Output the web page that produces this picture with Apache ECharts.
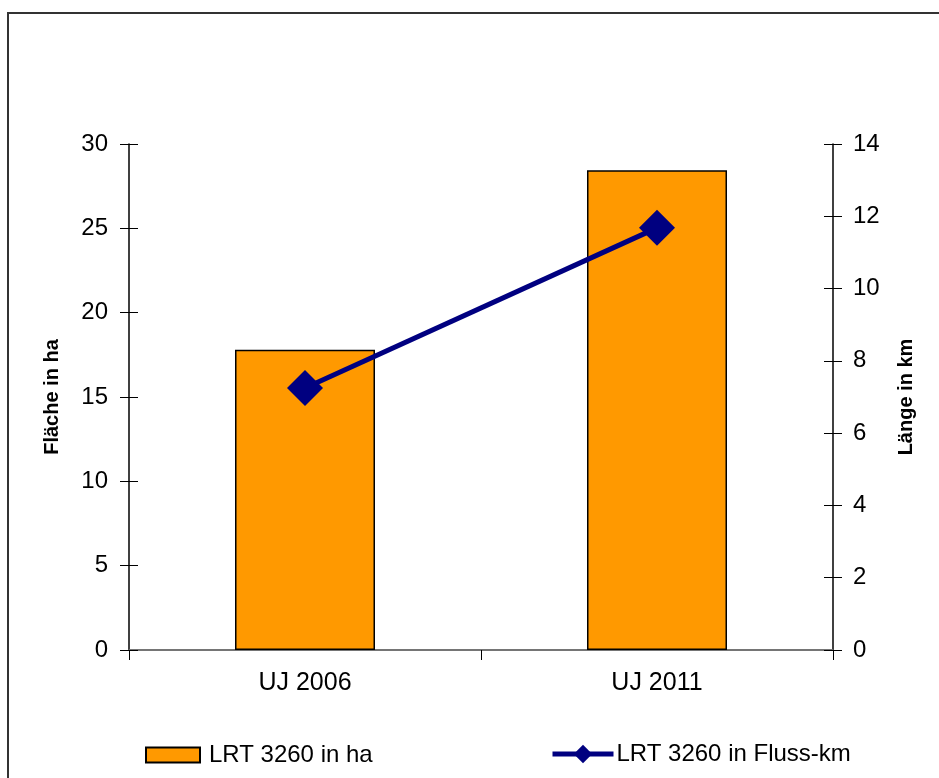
<!DOCTYPE html>
<html>
<head>
<meta charset="utf-8">
<script src="https://cdn.jsdelivr.net/npm/echarts@6/dist/echarts.min.js"></script>
<style>
html,body{margin:0;padding:0;background:#fff;}
#chart{width:939px;height:778px;}
</style>
</head>
<body>
<div id="chart"></div>
<script>
var categories = ['UJ 2006', 'UJ 2011'];
var areaHa = [17.8, 28.45];
var lengthKm = [7.25, 11.68];
var barName = 'LRT 3260 in ha';
var lineName = 'LRT 3260 in Fluss-km';
var leftAxisName = 'Fläche in ha';
var rightAxisName = 'Länge in km';

var FONT = "'Liberation Sans', Arial, sans-serif";
var chart = echarts.init(document.getElementById('chart'), null, {renderer: 'canvas'});

function tickOnlyAxis(pos, max, interval) {
  return {
    type: 'value', position: pos, min: 0, max: max, interval: interval,
    axisLine: {show: false}, axisLabel: {show: false}, splitLine: {show: false},
    axisTick: {show: true, inside: true, length: 9, lineStyle: {color: '#000', width: 1}}
  };
}

var option = {
  backgroundColor: '#fff',
  animation: false,
  textStyle: {fontFamily: FONT},
  graphic: [{
    type: 'rect', shape: {x: 8, y: 13, width: 1000, height: 1000},
    style: {fill: 'none', stroke: '#333', lineWidth: 2}, silent: true
  }],
  grid: {left: 129, right: 106, top: 144, bottom: 128, containLabel: false},
  legend: [{
    data: [{name: barName, icon: 'rect'}], left: 140, top: 738, itemWidth: 54, itemHeight: 15,
    textStyle: {fontSize: 24, color: '#000', fontFamily: FONT, padding: [0, 0, 0, 4]}
  }, {
    data: [lineName], left: 545, top: 737, itemWidth: 61, itemHeight: 23,
    lineStyle: {width: 5, color: '#000080'},
    itemStyle: {color: '#000080'},
    textStyle: {fontSize: 24, color: '#000', fontFamily: FONT, padding: [0, 0, 0, -2]}
  }],
  xAxis: [{
    type: 'category', data: categories, position: 'bottom',
    axisLine: {lineStyle: {color: '#000', width: 1.5}},
    axisTick: {show: true, length: 10, lineStyle: {color: '#000', width: 1}},
    axisLabel: {fontSize: 25, color: '#000', margin: 21, fontFamily: FONT},
    splitLine: {show: false}
  }, {
    type: 'category', data: categories, position: 'top',
    axisLine: {lineStyle: {color: '#888', width: 1.5}},
    axisTick: {show: false}, axisLabel: {show: false}, splitLine: {show: false}
  }],
  yAxis: [{
    type: 'value', position: 'left', min: 0, max: 30, interval: 5,
    name: leftAxisName, nameLocation: 'middle', nameRotate: 90, nameGap: 67,
    nameTextStyle: {fontSize: 20, fontWeight: 'bold', color: '#000', fontFamily: FONT},
    axisLine: {show: true, lineStyle: {color: '#000', width: 1.5}},
    axisTick: {show: true, length: 9, lineStyle: {color: '#000', width: 1}},
    axisLabel: {fontSize: 24, color: '#000', margin: 21, fontFamily: FONT},
    splitLine: {show: false}
  }, {
    type: 'value', position: 'right', min: 0, max: 14, interval: 2,
    name: rightAxisName, nameLocation: 'middle', nameRotate: 90, nameGap: 63,
    nameTextStyle: {fontSize: 20, fontWeight: 'bold', color: '#000', fontFamily: FONT},
    axisLine: {show: true, lineStyle: {color: '#000', width: 1.5}},
    axisTick: {show: true, length: 9, lineStyle: {color: '#000', width: 1}},
    axisLabel: {fontSize: 24, color: '#000', margin: 20, fontFamily: FONT},
    splitLine: {show: false}
  },
  tickOnlyAxis('left', 30, 5),
  tickOnlyAxis('right', 14, 2)
  ],
  series: [{
    name: barName, type: 'bar', xAxisIndex: 0, yAxisIndex: 0, data: areaHa, barWidth: 140,
    itemStyle: {color: '#FF9900', borderColor: '#000', borderWidth: 1.5}
  }, {
    name: lineName, type: 'line', xAxisIndex: 0, yAxisIndex: 1, data: lengthKm,
    symbol: 'diamond', symbolSize: 36, z: 5,
    lineStyle: {color: '#000080', width: 5},
    itemStyle: {color: '#000080'}
  }]
};
chart.setOption(option);
</script>
</body>
</html>
